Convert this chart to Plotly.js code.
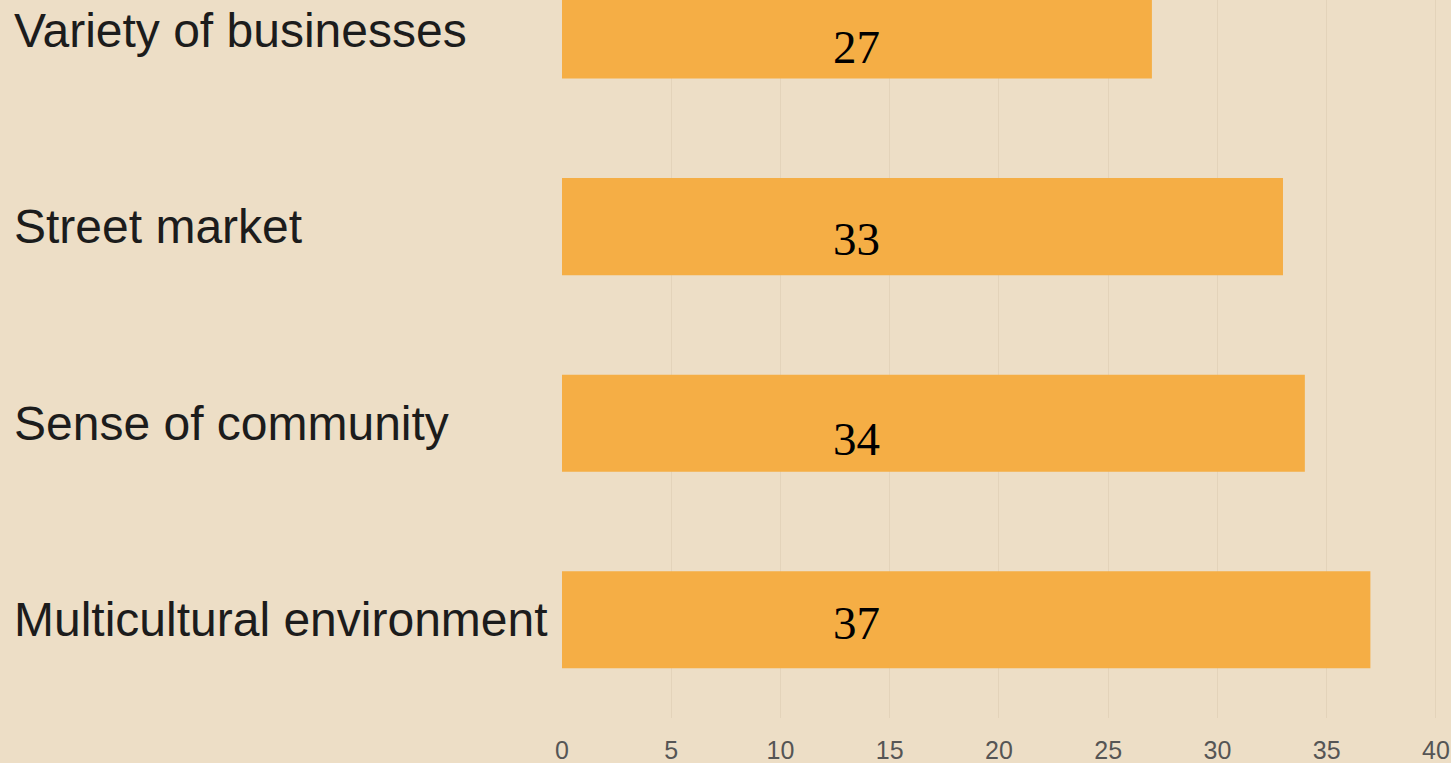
<!DOCTYPE html>
<html>
<head>
<meta charset="utf-8">
<script src="https://cdn.plot.ly/plotly-3.0.1.min.js"></script>
<style>
html, body { margin: 0; padding: 0; background: #EDDEC6; overflow: hidden; }
#chart { width: 1451px; height: 763px; }
</style>
</head>
<body>
<div id="chart"></div>
<script>
// Data (bottom to top)
const categories = ["Multicultural environment", "Sense of community", "Street market", "Variety of businesses"];
const values = [37, 34, 33, 27];
const valueLabels = ["37", "34", "33", "27"];
const xTickValues = [0, 5, 10, 15, 20, 25, 30, 35, 40];

// Layout-only settings
const valueLabelX = 13.5;
const valueLabelShift = [-3, -15.5, -12, -16.5];

const annotations = [];
categories.forEach((c, i) => {
  annotations.push({
    xref: 'paper', yref: 'y', x: -0.6187, y: c,
    xanchor: 'left', yanchor: 'middle', showarrow: false,
    text: c,
    font: { family: 'Liberation Sans, Arial, sans-serif', size: 48, color: '#1c1c1c' }
  });
  annotations.push({
    xref: 'x', yref: 'y', x: valueLabelX, y: c,
    xanchor: 'center', yanchor: 'middle', showarrow: false,
    yshift: valueLabelShift[i],
    text: valueLabels[i],
    font: { family: 'Liberation Serif, Times New Roman, serif', size: 47, color: '#000000' }
  });
});

const trace = {
  type: 'bar', orientation: 'h',
  x: values, y: categories,
  width: 0.494,
  marker: { color: '#F5AE45', line: { width: 0 } },
  hoverinfo: 'none'
};

const layout = {
  width: 1451, height: 763,
  margin: { l: 562, r: 0, t: 0, b: 45 },
  paper_bgcolor: '#EDDEC6',
  plot_bgcolor: '#EDDEC6',
  showlegend: false,
  xaxis: {
    range: [0, 40.69],
    tickmode: 'array', tickvals: xTickValues, ticktext: xTickValues.map(String),
    showgrid: true, gridcolor: '#E3D3BA', gridwidth: 1,
    zeroline: false, showline: false,
    ticks: 'outside', ticklen: 10, tickcolor: 'rgba(0,0,0,0)',
    tickfont: { family: 'Liberation Sans, Arial, sans-serif', size: 25, color: '#555555' },
    fixedrange: true
  },
  yaxis: {
    type: 'category',
    categoryorder: 'array', categoryarray: categories,
    range: [-0.5, 3.153],
    showticklabels: false, showgrid: false, zeroline: false, showline: false,
    fixedrange: true
  },
  annotations: annotations
};

Plotly.newPlot('chart', [trace], layout, { displayModeBar: false, staticPlot: true });
</script>
</body>
</html>
